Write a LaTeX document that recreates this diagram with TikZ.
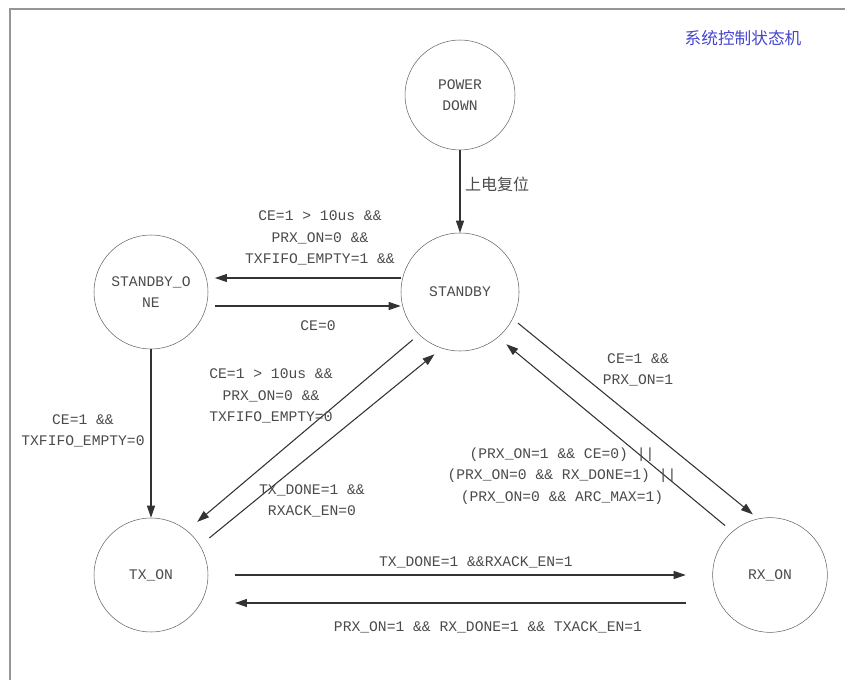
\documentclass[tikz,border=0pt]{standalone}
\usepackage{fontspec}
\setmainfont{Liberation Mono}
\newfontfamily\cjk{Noto Sans CJK SC}
\usepackage{tikz}
\usetikzlibrary{arrows.meta}

\definecolor{framegray}{RGB}{150,150,150}
\definecolor{titleblue}{RGB}{70,70,210}
\definecolor{txtgray}{RGB}{75,75,75}

\tikzset{
  state/.style={circle, draw=black!60, thin, text=txtgray, align=center,
    font=\fontsize{11}{16}\selectfont, inner sep=0pt},
  trans/.style={draw=black!80, line width=0.8pt,
    -{Triangle[length=9pt,width=6pt]}},
  cond/.style={text=txtgray, align=center,
    font=\fontsize{11}{16}\selectfont, inner sep=0pt},
}

\begin{document}
\begin{tikzpicture}[x=0.75pt, y=-0.75pt]
  \useasboundingbox (0,0) rectangle (845,680);
  \draw[framegray, line width=1.2pt] (10,680) -- (10,9) -- (845,9);

  \node[cond, text=titleblue, font=\cjk\fontsize{12.5}{15}\selectfont]
    (title) at (743,38) {系统控制状态机};

  % states
  \node[state, minimum size=82.5pt] (pd)  at (460,95)  {POWER\\DOWN};
  \node[state, minimum size=88.5pt] (sb)  at (460,292) {STANDBY};
  \node[state, minimum size=85.5pt] (sbo) at (151,292) {STANDBY\_O\\NE};
  \node[state, minimum size=85.5pt] (tx)  at (151,575) {TX\_ON};
  \node[state, minimum size=86pt]   (rx)  at (770,575) {RX\_ON};

  % transitions
  \draw[trans] (pd) -- (sb);
  \draw[trans, shorten >=5pt] ([yshift=10.5pt]sb.west) -- ([yshift=10.5pt]sbo.east);
  \draw[trans, shorten <=5pt] ([yshift=-10.5pt]sbo.east) -- ([yshift=-10.5pt]sb.west);
  \draw[trans] (sbo) -- (tx);
  \draw[trans, shorten <=6pt, shorten >=10pt] (sb.226) -- (tx.51);
  \draw[trans, shorten <=9pt, shorten >=7pt] (tx.31) -- (sb.252);
  \draw[trans, shorten <=5pt, shorten >=5pt] (sb.-27) -- (rx.102);
  \draw[trans, shorten <=7pt, shorten >=8pt] (rx.131) -- (sb.-50);
  \draw[trans] ([xshift=20pt]tx.east) -- ([xshift=-20pt]rx.west);
  \draw[trans] ([shift={(-20pt,-21pt)}]rx.west) -- ([shift={(20pt,-21pt)}]tx.east);

  % conditions
  \node[cond, font=\cjk\fontsize{12}{15}\selectfont] (lpu) at (497,184) {上电复位};
  \node[cond] (lsbo) at (320,238) {CE=1 > 10us \&\&\\PRX\_ON=0 \&\&\\TXFIFO\_EMPTY=1 \&\&};
  \node[cond] (lce) at (318,326) {CE=0};
  \node[cond] (lsbotx) at (83,431) {CE=1 \&\&\\TXFIFO\_EMPTY=0};
  \node[cond] (lsbtx) at (271,396) {CE=1 > 10us \&\&\\PRX\_ON=0 \&\&\\TXFIFO\_EMPTY=0};
  \node[cond] (ltxsb) at (312,501) {TX\_DONE=1 \&\&\\RXACK\_EN=0};
  \node[cond] (lsbrx) at (638,370) {CE=1 \&\&\\PRX\_ON=1};
  \node[cond] (lrxsb) at (562,476)
    {(PRX\_ON=1 \&\& CE=0) ||\\(PRX\_ON=0 \&\& RX\_DONE=1) ||\\(PRX\_ON=0 \&\& ARC\_MAX=1)};
  \node[cond] (ltxrx) at (476,562) {TX\_DONE=1 \&\&RXACK\_EN=1};
  \node[cond] (lrxtx) at (488,627) {PRX\_ON=1 \&\& RX\_DONE=1 \&\& TXACK\_EN=1};
\end{tikzpicture}
\end{document}
